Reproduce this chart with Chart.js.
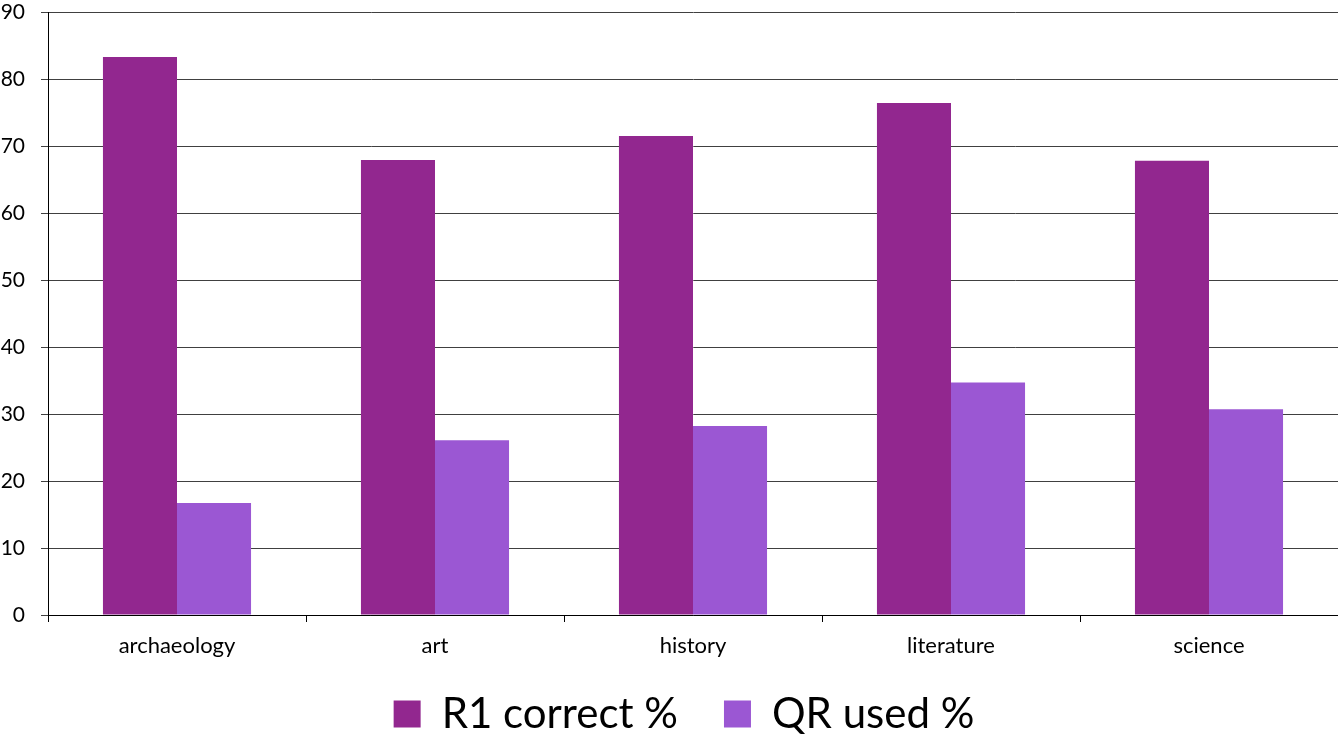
<!DOCTYPE html>
<html>
<head>
<meta charset="utf-8">
<script src="https://cdn.jsdelivr.net/npm/chart.js@4/dist/chart.umd.min.js"></script>
<style>
  html, body { margin: 0; padding: 0; background: #ffffff; }
  #wrap { width: 1338px; height: 734px; }
</style>
</head>
<body>
<div id="wrap"><canvas id="c" width="1338" height="734"></canvas></div>
<script>
const categories = ['archaeology', 'art', 'history', 'literature', 'science'];
const r1Correct = [83.3, 67.9, 71.5, 76.4, 67.8];
const qrUsed = [16.7, 26.1, 28.2, 34.7, 30.7];
const seriesNames = ['R1 correct %', 'QR used %'];
const yTicks = [0, 10, 20, 30, 40, 50, 60, 70, 80, 90];

const FONT = 'Lato, "Open Sans", sans-serif';

// Legend band: fixed height, items drawn a little higher and right of centre
const legendBand = {
  id: 'legendBand',
  afterInit(chart) {
    const lg = chart.legend;
    if (!lg) return;
    const fit = lg.fit.bind(lg);
    lg.fit = function () { fit(); this.height = 69; };
    const draw = lg.draw.bind(lg);
    lg.draw = function () {
      const { top, left, right } = this;
      this.top = top - 18;
      this.left = left + 15;
      this.right = right + 15;
      draw();
      this.top = top;
      this.left = left;
      this.right = right;
    };
  }
};

new Chart(document.getElementById('c'), {
  type: 'bar',
  data: {
    labels: categories,
    datasets: [
      { label: seriesNames[0], data: r1Correct, backgroundColor: '#92278F', borderWidth: 0 },
      { label: seriesNames[1], data: qrUsed, backgroundColor: '#9B57D3', borderWidth: 0 }
    ]
  },
  plugins: [legendBand],
  options: {
    responsive: false,
    animation: false,
    devicePixelRatio: 1,
    layout: { padding: { top: 12, right: 0, left: 0, bottom: 0 } },
    datasets: { bar: { categoryPercentage: 0.574, barPercentage: 1.0 } },
    plugins: {
      tooltip: { enabled: false },
      legend: {
        position: 'bottom',
        labels: {
          font: { family: FONT, size: 42 },
          color: '#000000',
          boxWidth: 27,
          boxHeight: 27,
          padding: 46
        }
      }
    },
    scales: {
      x: {
        grid: { offset: true, drawOnChartArea: false, drawTicks: true, tickLength: 7, color: '#000000', lineWidth: 1 },
        border: { display: true, color: '#000000', width: 1 },
        ticks: { font: { family: FONT, size: 22 }, color: '#000000', padding: 11 },
        afterFit: s => { s.height = 50; }
      },
      y: {
        min: 0,
        max: 90,
        afterBuildTicks: s => { s.ticks = yTicks.map(v => ({ value: v })); },
        grid: { color: '#404040', lineWidth: 1, tickLength: 7 },
        border: { display: true, color: '#000000', width: 1 },
        ticks: { font: { family: FONT, size: 21 }, color: '#000000', padding: 16 },
        afterFit: s => { s.width = 48; s.paddingTop = 0; s.paddingBottom = 0; }
      }
    }
  }
});
</script>
</body>
</html>
